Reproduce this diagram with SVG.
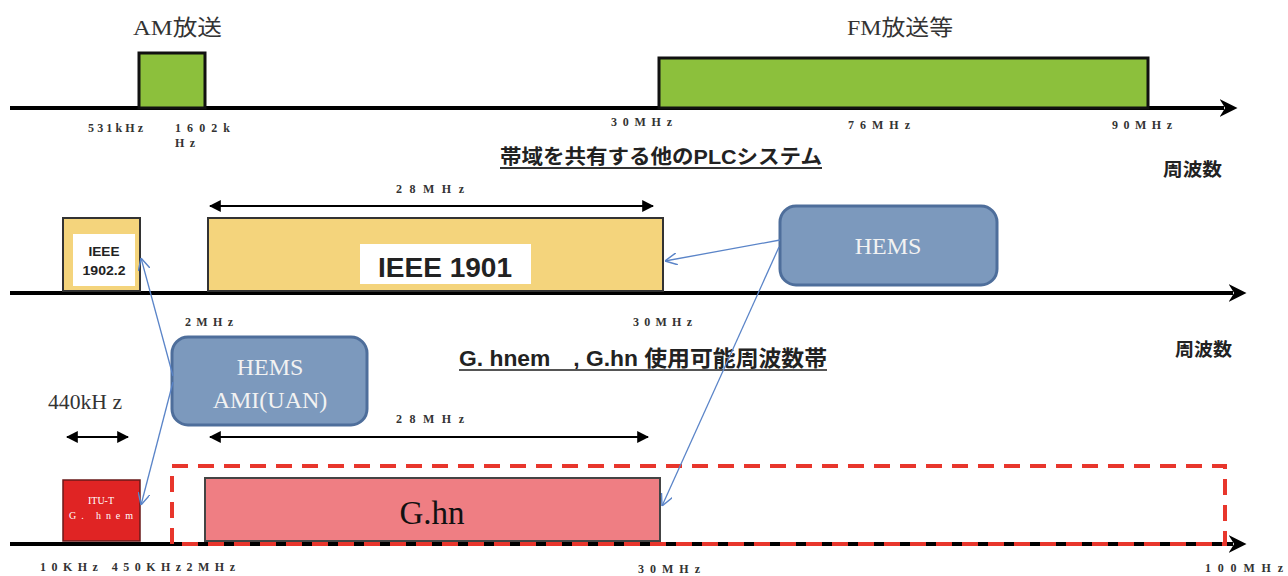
<svg xmlns="http://www.w3.org/2000/svg" width="1288" height="576" viewBox="0 0 1288 576">
<defs>
<style>
.axis{stroke:#000;stroke-width:4;fill:none}
.lbl{font-family:"Liberation Serif","Noto Sans CJK JP",serif;font-weight:bold;font-size:12px;fill:#333}
.ttl{font-family:"Liberation Serif","Noto Sans CJK JP",serif;font-size:22px;fill:#333}
.jp{font-family:"Liberation Sans","Noto Sans CJK JP",sans-serif;font-weight:bold;fill:#222}
.hems{fill:#7C99BD;stroke:#4E6E9B;stroke-width:3}
.htxt{font-family:"Liberation Serif",serif;font-size:24px;fill:#F2F2F2;text-anchor:middle}
.conn{stroke:#5A84C8;stroke-width:1.3;fill:none;marker-end:url(#open)}
.dim{stroke:#000;stroke-width:2;marker-start:url(#tri);marker-end:url(#tri)}
.yel{fill:#F4D47C;stroke:#333;stroke-width:2}
</style>
<marker id="open" viewBox="0 0 10 10" refX="10" refY="5" markerWidth="12" markerHeight="12" markerUnits="userSpaceOnUse" orient="auto"><path d="M0,0 L10,5 L0,10" fill="none" stroke="#5A84C8" stroke-width="1.2"/></marker>
<marker id="tri" viewBox="0 0 10 10" refX="9" refY="5" markerWidth="12" markerHeight="14" markerUnits="userSpaceOnUse" orient="auto-start-reverse"><path d="M0,0 L10,5 L0,10 Z" fill="#000"/></marker>
<marker id="ah" viewBox="0 0 16 16" refX="4" refY="8" markerWidth="18" markerHeight="18" markerUnits="userSpaceOnUse" orient="auto"><path d="M0,0 L16,8 L0,16 L5,8 Z" fill="#000"/></marker>
</defs>

<!-- axes -->
<g id="axes">
<line class="axis" x1="10" y1="108" x2="1224" y2="108" marker-end="url(#ah)"/>
<line class="axis" x1="10" y1="293" x2="1233" y2="293" marker-end="url(#ah)"/>
<line class="axis" x1="10" y1="544" x2="1233" y2="544" marker-end="url(#ah)"/>
</g>

<!-- top band -->
<g id="am">
<rect x="139" y="53" width="66" height="55" fill="#8CC03C" stroke="#111" stroke-width="3"/>
<text class="ttl" x="133" y="35" textLength="89" lengthAdjust="spacingAndGlyphs">AM放送</text>
</g>
<g id="fm">
<rect x="659" y="58" width="489" height="50" fill="#8CC03C" stroke="#111" stroke-width="3"/>
<text class="ttl" x="847" y="35" textLength="106" lengthAdjust="spacingAndGlyphs">FM放送等</text>
</g>
<g id="top-labels">
<text class="lbl" x="88" y="132" textLength="55" lengthAdjust="spacing">531kHz</text>
<text class="lbl" x="175" y="132" textLength="55" lengthAdjust="spacing">1602k</text>
<text class="lbl" x="175" y="147" textLength="20" lengthAdjust="spacing">Hz</text>
<text class="lbl" x="611" y="126" textLength="61" lengthAdjust="spacing">30MHz</text>
<text class="lbl" x="848" y="129" textLength="62" lengthAdjust="spacing">76MHz</text>
<text class="lbl" x="1112" y="129" textLength="60" lengthAdjust="spacing">90MHz</text>
</g>

<g id="title1">
<text class="jp" x="500" y="164" font-size="20" textLength="322" lengthAdjust="spacingAndGlyphs">帯域を共有する他のPLCシステム</text>
<line x1="500" y1="168" x2="822" y2="168" stroke="#333" stroke-width="2"/>
<text class="jp" x="1163" y="176" font-size="18" font-weight="normal" textLength="59" lengthAdjust="spacingAndGlyphs">周波数</text>
</g>

<!-- middle band -->
<g id="ieee19022">
<rect class="yel" x="63" y="218" width="77" height="73"/>
<rect x="73" y="234" width="62" height="52" fill="#fff"/>
<text class="jp" x="104" y="256" font-size="13" text-anchor="middle" textLength="31" lengthAdjust="spacingAndGlyphs">IEEE</text>
<text class="jp" x="104" y="275" font-size="13" text-anchor="middle" textLength="43" lengthAdjust="spacingAndGlyphs">1902.2</text>
</g>
<g id="ieee1901">
<rect class="yel" x="208" y="218" width="455" height="73"/>
<rect x="360" y="244" width="171" height="40" fill="#fff"/>
<text class="jp" x="378" y="277" font-size="28" textLength="134" lengthAdjust="spacingAndGlyphs">IEEE 1901</text>
</g>
<g id="dim-28-top">
<line class="dim" x1="210" y1="206" x2="653" y2="206"/>
<text class="lbl" x="396" y="193" textLength="68" lengthAdjust="spacing">28MHz</text>
</g>
<g id="hems1">
<rect class="hems" x="780" y="206" width="217" height="79" rx="16"/>
<text class="htxt" x="888" y="254">HEMS</text>
</g>
<g id="mid-labels">
<text class="lbl" x="185" y="326" textLength="48" lengthAdjust="spacing">2MHz</text>
<text class="lbl" x="633" y="326" textLength="59" lengthAdjust="spacing">30MHz</text>
<text class="jp" x="1175" y="356" font-size="18" font-weight="normal" textLength="57" lengthAdjust="spacingAndGlyphs">周波数</text>
</g>

<g id="title2">
<text class="jp" x="459" y="366" font-size="22" textLength="368" lengthAdjust="spacingAndGlyphs">G. hnem　, G.hn 使用可能周波数帯</text>
<line x1="459" y1="370" x2="827" y2="370" stroke="#555" stroke-width="2"/>
</g>

<!-- bottom band -->
<g id="hems2">
<rect class="hems" x="172" y="337" width="195" height="88" rx="16"/>
<text class="htxt" x="270" y="375">HEMS</text>
<text class="htxt" x="270" y="408">AMI(UAN)</text>
</g>
<g id="dim-440">
<text x="48" y="409" font-family="Liberation Serif,serif" font-size="20" fill="#333" textLength="74" lengthAdjust="spacingAndGlyphs">440kH z</text>
<line class="dim" x1="67" y1="437" x2="128" y2="437"/>
</g>
<g id="dim-28-bot">
<line class="dim" x1="210" y1="437" x2="648" y2="437"/>
<text class="lbl" x="396" y="423" textLength="68" lengthAdjust="spacing">28MHz</text>
</g>
<g id="range">
<rect x="172" y="466" width="1053" height="78" fill="none" stroke="#E8362C" stroke-width="4" stroke-dasharray="16 10"/>
</g>
<g id="itut">
<rect x="63" y="480" width="77" height="61" fill="#E02424" stroke="#6a1a1a" stroke-width="1.5"/>
<text x="101" y="504" font-family="Liberation Serif,serif" font-size="10" fill="#fff" text-anchor="middle">ITU-T</text>
<text x="101" y="519" font-family="Liberation Serif,serif" font-size="10" fill="#fff" text-anchor="middle" textLength="64" lengthAdjust="spacing">G. hnem</text>
</g>
<g id="ghn">
<rect x="205" y="478" width="455" height="63" fill="#EF7E83" stroke="#444" stroke-width="2"/>
<text x="432" y="524" font-family="Liberation Serif,serif" font-size="33" fill="#111" text-anchor="middle">G.hn</text>
</g>
<g id="bot-labels">
<text class="lbl" x="40" y="571" textLength="195" lengthAdjust="spacing">10KHz 450KHz2MHz</text>
<text class="lbl" x="638" y="573" textLength="62" lengthAdjust="spacing">30MHz</text>
<text class="lbl" x="1205" y="572" textLength="78" lengthAdjust="spacing">100MHz</text>
</g>

<!-- connectors -->
<g id="connectors">
<path class="conn" d="M780,240 L665,261"/>
<path class="conn" d="M779,247 L662,506"/>
<path class="conn" d="M173,376 L141,258"/>
<path class="conn" d="M173,382 L141,505"/>
</g>
</svg>
